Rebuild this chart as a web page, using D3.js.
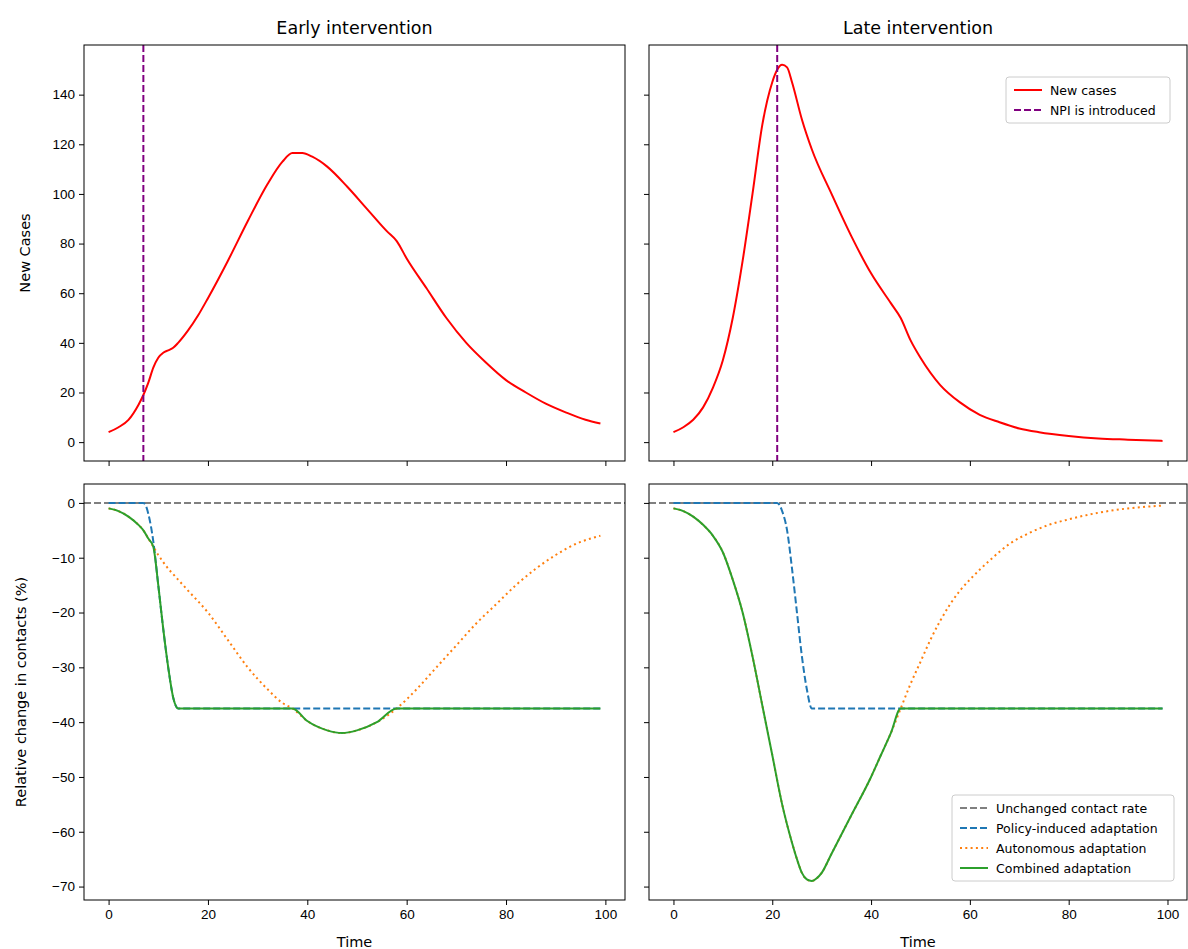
<!DOCTYPE html>
<html><head><meta charset="utf-8">
<script src="https://cdn.jsdelivr.net/npm/d3@7"></script>
<style>body{margin:0;background:#fff;font-family:"DejaVu Sans",sans-serif}</style>
</head><body><div id="chart"></div>
<script>
// new cases, [time, value]
const earlyCases = [[0,4],[2,6],[4,9],[6,15],[7,19],[8,24],[9,30],[10,34],[11,36],[12,37],[13,38],[14,40],[16,45],[18,51],[20,58],[24,73],[28,89],[32,104],[35,113],[37,116.5],[39,116.5],[41,115],[44,111],[48,103],[52,94],[56,85],[58,81],[60,74],[64,62],[68,50],[72,40],[76,32],[80,25],[84,20],[88,15.5],[92,12],[96,9],[99,7.5]];
const lateCases = [[0,4],[2,6],[4,9],[6,14],[8,22],[10,33],[12,50],[14,73],[16,100],[18,128],[20,145],[21,150],[22,152],[23,151],[24,145],[26,130],[28,118],[32,100],[36,83],[40,68],[44,56],[46,50],[48,41],[50,34],[54,23],[58,16],[62,11],[66,8],[70,5.5],[74,4],[80,2.5],[86,1.5],[92,1],[99,0.5]];
const npiTime = [7, 21];

const earlyPolicy = [[0,0],[7,0],[7.5,-0.5],[8,-2],[9,-7],[10,-15],[11,-23],[12,-30],[13,-35.5],[14,-37.5],[99,-37.5]];
const earlyAuto = [[0,-1],[2,-1.5],[4,-2.5],[6,-4],[7,-5],[8,-6.5],[9,-8],[10,-9.5],[11,-10.8],[12,-12],[13,-13],[14,-14],[16,-16],[20,-20],[24,-25],[28,-30],[32,-34],[35,-36.5],[37,-37.5],[40,-39.8],[44,-41.5],[47,-42],[50,-41.5],[54,-40],[58,-37.5],[62,-34],[66,-30],[70,-26],[74,-22],[78,-18.5],[82,-15],[86,-12],[90,-9.5],[94,-7.5],[99,-6]];
const earlyCombined = [[0,-1],[2,-1.5],[4,-2.5],[6,-4],[7,-5],[8,-6.5],[9,-8],[10,-15],[11,-23],[12,-30],[13,-35.5],[14,-37.5],[37,-37.5],[40,-39.8],[44,-41.5],[47,-42],[50,-41.5],[54,-40],[58,-37.5],[99,-37.5]];

const latePolicy = [[0,0],[21,0],[22,-1.5],[23,-5],[24,-12],[25,-20],[26,-28],[27,-34],[28,-37.5],[99,-37.5]];
const lateAuto = [[0,-1],[2,-1.5],[4,-2.5],[6,-4],[8,-6],[10,-9],[12,-14],[14,-20],[16,-28],[18,-37],[20,-46],[22,-55],[24,-62],[25,-65],[26,-67.5],[27,-68.7],[28,-69],[29,-68.5],[30,-67.5],[32,-64],[36,-57],[40,-50],[42,-46],[44,-42],[46,-37.5],[48,-33],[50,-29],[52,-25],[54,-21.5],[56,-18.5],[58,-16],[60,-14],[64,-10.5],[68,-7.5],[72,-5.5],[76,-4],[80,-3],[86,-1.8],[92,-1],[99,-0.5]];
const lateCombined = [[0,-1],[2,-1.5],[4,-2.5],[6,-4],[8,-6],[10,-9],[12,-14],[14,-20],[16,-28],[18,-37],[20,-46],[22,-55],[24,-62],[25,-65],[26,-67.5],[27,-68.7],[28,-69],[29,-68.5],[30,-67.5],[32,-64],[36,-57],[40,-50],[42,-46],[44,-42],[46,-37.5],[99,-37.5]];

const titles = ["Early intervention", "Late intervention"];
const topTicks = [0,20,40,60,80,100,120,140];
const botTicks = [0,-10,-20,-30,-40,-50,-60,-70];
const xTicks = [0,20,40,60,80,100];

const svg = d3.select("#chart").append("svg").attr("width",1188).attr("height",949)
  .style("font-family","DejaVu Sans, sans-serif");

const cols = [[84,625],[649,1187]];
const rowsY = [[45,461],[484,900]];
const yTop = d3.scaleLinear().domain([-7.6,160]);
const yBot = d3.scaleLinear().domain([-72.45,3.45]);

function drawLine(g, x, y, data, color, dash, curve){
  g.append("path").datum(data)
    .attr("fill","none").attr("stroke",color).attr("stroke-width",2)
    .attr("stroke-dasharray",dash||null)
    .attr("d", d3.line().x(d=>x(d[0])).y(d=>y(d[1])).curve(curve||d3.curveMonotoneX));
}

for (let c=0;c<2;c++){
  const x = d3.scaleLinear().domain([-4.95,103.95]).range(cols[c]);
  for (let r=0;r<2;r++){
    const y = (r==0?yTop:yBot).copy().range([rowsY[r][1],rowsY[r][0]]);
    const g = svg.append("g");
    const clipId = "clip"+c+r;
    g.append("clipPath").attr("id",clipId).append("rect")
      .attr("x",cols[c][0]).attr("y",rowsY[r][0]).attr("width",cols[c][1]-cols[c][0]).attr("height",rowsY[r][1]-rowsY[r][0]);
    const p = g.append("g").attr("clip-path","url(#"+clipId+")");
    if (r==0){
      drawLine(p,x,y,c==0?earlyCases:lateCases,"red");
      p.append("line").attr("x1",x(npiTime[c])).attr("x2",x(npiTime[c]))
        .attr("y1",rowsY[r][0]).attr("y2",rowsY[r][1])
        .attr("stroke","purple").attr("stroke-width",2).attr("stroke-dasharray","7,3");
    } else {
      p.append("line").attr("x1",cols[c][0]).attr("x2",cols[c][1]).attr("y1",y(0)).attr("y2",y(0))
        .attr("stroke","grey").attr("stroke-width",2).attr("stroke-dasharray","7,3");
      drawLine(p,x,y,c==0?earlyPolicy:latePolicy,"#1f77b4","7,3");
      drawLine(p,x,y,c==0?earlyAuto:lateAuto,"#ff7f0e","2,3.3");
      drawLine(p,x,y,c==0?earlyCombined:lateCombined,"#2ca02c");
    }
    // axes
    const xa = g.append("g").attr("transform","translate(0,"+rowsY[r][1]+")")
      .call(d3.axisBottom(x).tickValues(xTicks).tickSize(5).tickPadding(4).tickFormat(r==1?d3.format("d"):""));
    const ya = g.append("g").attr("transform","translate("+cols[c][0]+",0)")
      .call(d3.axisLeft(y).tickValues(r==0?topTicks:botTicks).tickSize(5).tickPadding(4)
        .tickFormat(c==0?(d=>d<0?"\u2212"+(-d):d):""));
    [xa,ya].forEach(a=>{a.select(".domain").remove();a.selectAll("text").attr("font-size",13.5).attr("fill","#000");a.selectAll("line").attr("stroke","#000");});
    g.append("rect").attr("x",cols[c][0]).attr("y",rowsY[r][0]).attr("width",cols[c][1]-cols[c][0]).attr("height",rowsY[r][1]-rowsY[r][0])
      .attr("fill","none").attr("stroke","#000").attr("stroke-width",1);
    if (r==1) g.append("text").attr("x",(cols[c][0]+cols[c][1])/2).attr("y",947).attr("text-anchor","middle").attr("font-size",14.5).text("Time");
  }
  svg.append("text").attr("x",(cols[c][0]+cols[c][1])/2).attr("y",34).attr("text-anchor","middle").attr("font-size",17.5).text(titles[c]);
}
svg.append("text").attr("transform","translate(30,253) rotate(-90)").attr("text-anchor","middle").attr("font-size",14.5).text("New Cases");
svg.append("text").attr("transform","translate(26,692) rotate(-90)").attr("text-anchor","middle").attr("font-size",14.5).text("Relative change in contacts (%)");

function legend(x0,y0,w,items){
  const g = svg.append("g").attr("transform","translate("+x0+","+y0+")");
  g.append("rect").attr("width",w).attr("height",items.length*20+6).attr("rx",3)
    .attr("fill","#fff").attr("fill-opacity",0.8).attr("stroke","#ccc");
  items.forEach((it,i)=>{
    const yy = 13+i*20;
    g.append("line").attr("x1",8).attr("x2",36).attr("y1",yy).attr("y2",yy)
      .attr("stroke",it[1]).attr("stroke-width",2).attr("stroke-dasharray",it[2]||null);
    g.append("text").attr("x",44).attr("y",yy+4.5).attr("font-size",12.5).text(it[0]);
  });
}
legend(1006,77,164,[["New cases","red"],["NPI is introduced","purple","7,3"]]);
legend(952,795,222,[["Unchanged contact rate","grey","7,3"],["Policy-induced adaptation","#1f77b4","7,3"],["Autonomous adaptation","#ff7f0e","2,3.3"],["Combined adaptation","#2ca02c"]]);
</script></body></html>
